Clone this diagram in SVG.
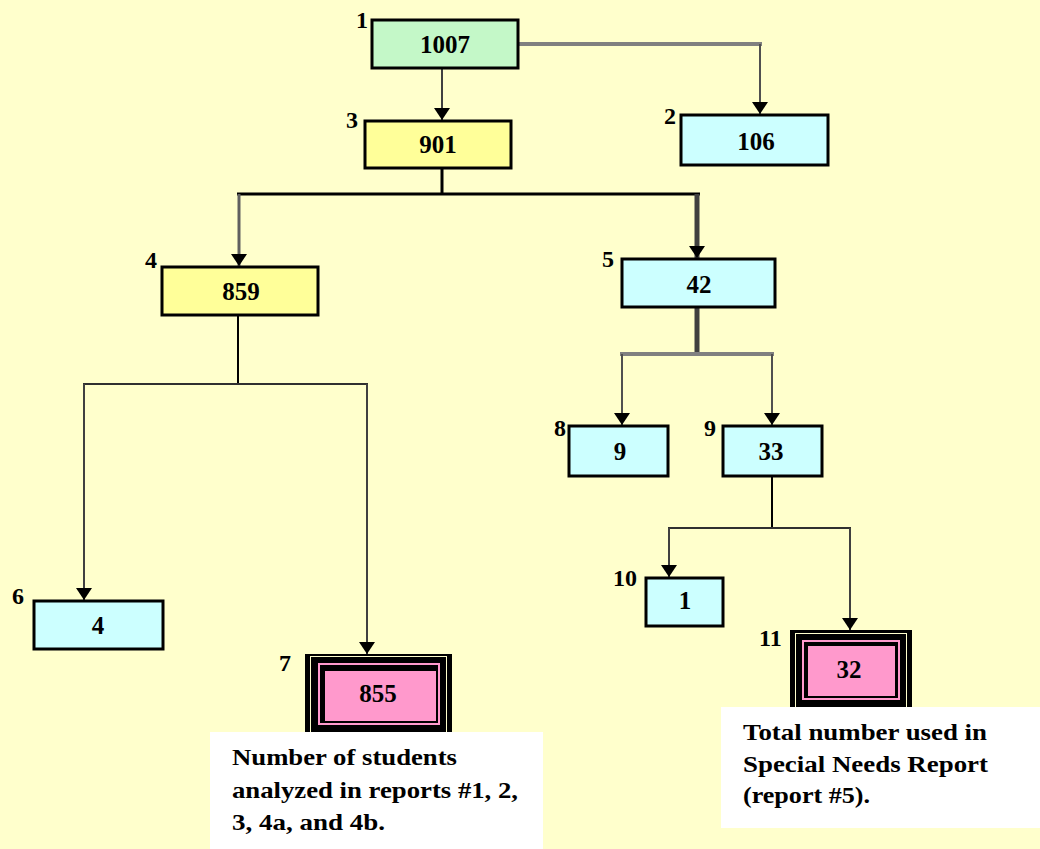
<svg xmlns="http://www.w3.org/2000/svg" width="1040" height="849" viewBox="0 0 1040 849">
<style>
.box{stroke:#000;stroke-width:3}
.g{fill:#C4F8C8}.y{fill:#FFFF99}.c{fill:#CCFFFF}.p{fill:#FF99CC}
.num{font-family:"Liberation Serif",serif;font-weight:bold;font-size:25px;text-anchor:middle;fill:#000}
.lab{font-family:"Liberation Serif",serif;font-weight:bold;font-size:24px;fill:#000}
.note{font-family:"Liberation Serif",serif;font-weight:bold;font-size:24px;fill:#000}
.ln{fill:none;stroke-linecap:butt}
</style>
<defs>
<marker id="ah" markerUnits="userSpaceOnUse" markerWidth="12" markerHeight="16" viewBox="0 0 12 16" refX="12" refY="8" orient="auto">
<path d="M0,0 L12,8 L0,16 Z" fill="#000"/>
</marker>
</defs>
<rect x="0" y="0" width="1040" height="849" fill="#FFFFCC"/>

<g id="connectors">
<path class="ln" d="M518,44 H762" stroke="#808080" stroke-width="4"/>
<path class="ln" d="M760,44 V114" stroke="#505050" stroke-width="2" marker-end="url(#ah)"/>
<path class="ln" d="M442,68 V120" stroke="#404040" stroke-width="2" marker-end="url(#ah)"/>
<path class="ln" d="M442,168 V194" stroke="#000" stroke-width="3"/>
<path class="ln" d="M237,194 H700" stroke="#000" stroke-width="3"/>
<path class="ln" d="M239,194 V266" stroke="#606060" stroke-width="3" marker-end="url(#ah)"/>
<path class="ln" d="M697,194 V258" stroke="#404040" stroke-width="5" marker-end="url(#ah)"/>
<path class="ln" d="M238,316 V384" stroke="#000" stroke-width="2"/>
<path class="ln" d="M83,384 H368" stroke="#303030" stroke-width="2"/>
<path class="ln" d="M84,384 V600" stroke="#404040" stroke-width="2" marker-end="url(#ah)"/>
<path class="ln" d="M367,384 V654" stroke="#404040" stroke-width="2" marker-end="url(#ah)"/>
<path class="ln" d="M697,308 V354" stroke="#404040" stroke-width="5"/>
<path class="ln" d="M620,354 H774" stroke="#808080" stroke-width="4"/>
<path class="ln" d="M622,354 V425" stroke="#505050" stroke-width="2" marker-end="url(#ah)"/>
<path class="ln" d="M772,354 V425" stroke="#505050" stroke-width="2" marker-end="url(#ah)"/>
<path class="ln" d="M772,477 V528" stroke="#000" stroke-width="2"/>
<path class="ln" d="M668,528 H851" stroke="#303030" stroke-width="2"/>
<path class="ln" d="M669,528 V577" stroke="#404040" stroke-width="2" marker-end="url(#ah)"/>
<path class="ln" d="M850,528 V630" stroke="#404040" stroke-width="2" marker-end="url(#ah)"/>
</g>

<g id="n1">
<rect class="box g" x="372" y="20" width="146" height="48"/>
<text class="num" x="445" y="53">1007</text>
<text class="lab" x="356" y="28">1</text>
</g>
<g id="n2">
<rect class="box c" x="681" y="115" width="147" height="50"/>
<text class="num" x="756" y="150">106</text>
<text class="lab" x="664" y="124">2</text>
</g>
<g id="n3">
<rect class="box y" x="365" y="121" width="146" height="47"/>
<text class="num" x="438" y="153">901</text>
<text class="lab" x="346" y="128">3</text>
</g>
<g id="n4">
<rect class="box y" x="162" y="267" width="156" height="48"/>
<text class="num" x="241" y="300">859</text>
<text class="lab" x="145" y="268">4</text>
</g>
<g id="n5">
<rect class="box c" x="622" y="259" width="153" height="48"/>
<text class="num" x="699" y="293">42</text>
<text class="lab" x="602" y="267">5</text>
</g>
<g id="n6">
<rect class="box c" x="34" y="601" width="129" height="48"/>
<text class="num" x="98" y="634">4</text>
<text class="lab" x="12" y="604">6</text>
</g>
<g id="n7">
<rect x="305" y="654" width="147" height="95" fill="#000"/>
<rect x="310.5" y="656.5" width="136" height="95" fill="none" stroke="#FFFFCC" stroke-width="1"/>
<rect x="318" y="663" width="122" height="62" fill="#FF99CC"/>
<rect x="320" y="665" width="118" height="58" fill="#000"/>
<rect x="325" y="671" width="111" height="50" fill="#FF99CC"/>
<text class="num" x="378" y="702">855</text>
<text class="lab" x="279" y="671">7</text>
</g>
<g id="n8">
<rect class="box c" x="569" y="426" width="99" height="50"/>
<text class="num" x="620" y="460">9</text>
<text class="lab" x="554" y="436">8</text>
</g>
<g id="n9">
<rect class="box c" x="723" y="426" width="99" height="50"/>
<text class="num" x="771" y="460">33</text>
<text class="lab" x="704" y="436">9</text>
</g>
<g id="n10">
<rect class="box c" x="646" y="578" width="77" height="48"/>
<text class="num" x="685" y="609">1</text>
<text class="lab" x="613" y="586">10</text>
</g>
<g id="n11">
<rect x="790" y="630" width="122" height="85" fill="#000"/>
<rect x="795.5" y="633.5" width="111" height="85" fill="none" stroke="#FFFFCC" stroke-width="1"/>
<rect x="802" y="640" width="98" height="60" fill="#FF99CC"/>
<rect x="804" y="642" width="94" height="56" fill="#000"/>
<rect x="808" y="646" width="87" height="50" fill="#FF99CC"/>
<text class="num" x="849" y="678">32</text>
<text class="lab" x="759" y="646">11</text>
</g>

<g id="note7">
<rect x="210" y="732" width="333" height="117" fill="#FFFFFF"/>
<text class="note" x="232" y="765" textLength="225" lengthAdjust="spacingAndGlyphs">Number of students</text>
<text class="note" x="232" y="798" textLength="286" lengthAdjust="spacingAndGlyphs">analyzed in reports #1, 2,</text>
<text class="note" x="232" y="830" textLength="153" lengthAdjust="spacingAndGlyphs">3, 4a, and 4b.</text>
</g>
<g id="note11">
<rect x="721" y="707" width="319" height="121" fill="#FFFFFF"/>
<text class="note" x="743" y="740" textLength="244" lengthAdjust="spacingAndGlyphs">Total number used in</text>
<text class="note" x="743" y="772" textLength="245" lengthAdjust="spacingAndGlyphs">Special Needs Report</text>
<text class="note" x="743" y="803" textLength="127" lengthAdjust="spacingAndGlyphs">(report #5).</text>
</g>
</svg>
